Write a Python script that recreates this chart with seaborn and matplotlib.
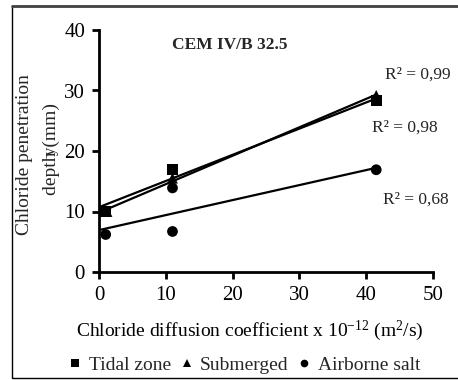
import numpy as np
import pandas as pd
import matplotlib
matplotlib.use("Agg")
import matplotlib.pyplot as plt
from matplotlib.lines import Line2D
from matplotlib.patches import Rectangle
import seaborn as sns

sns.set_theme(style="white")
plt.rcParams['font.family'] = ['Liberation Serif', 'DejaVu Serif']
plt.rcParams['mathtext.fontset'] = 'custom'
plt.rcParams['mathtext.rm'] = 'Liberation Serif'
plt.rcParams['mathtext.it'] = 'Liberation Serif:italic'
plt.rcParams['mathtext.bf'] = 'Liberation Serif:bold'

# Data
tidal_x = [1.0, 11.0, 41.5]
tidal_y = [10.0, 17.0, 28.3]
sub_x = [1.2, 11.0, 41.5]
sub_y = [10.0, 15.5, 29.2]
air_x = [1.0, 11.0, 11.0, 41.5]
air_y = [6.2, 6.7, 13.9, 16.9]
series_names = ["Tidal zone", "Submerged", "Airborne salt"]
r2_labels = ["R² = 0,98", "R² = 0,99", "R² = 0,68"]

df = pd.DataFrame({
    "x": tidal_x + sub_x + air_x,
    "y": tidal_y + sub_y + air_y,
    "series": [series_names[0]] * len(tidal_x) + [series_names[1]] * len(sub_x) + [series_names[2]] * len(air_x),
})

fig = plt.figure(figsize=(4.58, 3.80), dpi=100)
ax = fig.add_axes([99/458, 1 - 272/380, (433-99)/458, (272-30)/380])

markers = {series_names[0]: "s", series_names[1]: "^", series_names[2]: "o"}
sns.scatterplot(data=df, x="x", y="y", style="series", markers=markers,
                color="black", s=60, edgecolor="black", linewidth=0,
                legend=False, ax=ax, zorder=3)

for xs, ys in [(tidal_x, tidal_y), (sub_x, sub_y), (air_x, air_y)]:
    k, b = np.polyfit(xs, ys, 1)
    xx = np.array([0.2, max(xs)])
    ax.plot(xx, k * xx + b, color="black", lw=1.6, zorder=2)

ax.set_xlim(0, 50)
ax.set_ylim(0, 40)
ax.set_xticks([0, 10, 20, 30, 40, 50])
ax.set_yticks([0, 10, 20, 30, 40])
for s in ["top", "right"]:
    ax.spines[s].set_visible(False)
for s in ["left", "bottom"]:
    ax.spines[s].set_color("black")
    ax.spines[s].set_linewidth(2)
ax.tick_params(axis="both", direction="out", length=5, width=2, color="black",
               labelsize=15, labelcolor="black", pad=5, bottom=True, left=True)

ax.set_xlabel("Chloride diffusion coefficient x 10$^{-12}$ (m$^2$/s)", fontsize=14, color="black")
ax.xaxis.set_label_coords((250-99)/334, -(331-272)/242)
ax.xaxis.label.set_va("center")

fig.text(25/458, 1 - 155/380, "Chloride penetration", rotation=90, ha="center", va="center", fontsize=14)
fig.text(51/458, 1 - 149/380, "depth (mm)", rotation=90, ha="center", va="center", fontsize=14)

ax.text(19.5, 37.6, "CEM IV/B 32.5", fontsize=12.5, fontweight="bold", ha="center", va="center")
fig.text(418/458, 1 - 75/380, r2_labels[1], ha="center", va="center", fontsize=12.5)
fig.text(405/458, 1 - 128/380, r2_labels[0], ha="center", va="center", fontsize=12.5)
fig.text(416/458, 1 - 200/380, r2_labels[2], ha="center", va="center", fontsize=12.5)

handles = [Line2D([], [], linestyle="none", marker=markers[n], color="black",
                  markersize=5.5, markeredgewidth=0) for n in series_names]
fig.legend(handles, series_names, loc="center", bbox_to_anchor=(245/458, 1 - 365/380),
           ncol=3, frameon=False, fontsize=14, handlelength=0.6, handletextpad=0.4,
           columnspacing=0.5, borderpad=0)

fig.add_artist(Rectangle((12/458, 1 - 378/380), 1.0, (378-6)/380, transform=fig.transFigure,
                         fill=False, edgecolor="black", linewidth=1))
fig.add_artist(Line2D([12/458, 1.0], [1 - 6/380, 1 - 6/380], transform=fig.transFigure,
                      color="#444444", linewidth=2))

fig.savefig("out.png", dpi=100)
